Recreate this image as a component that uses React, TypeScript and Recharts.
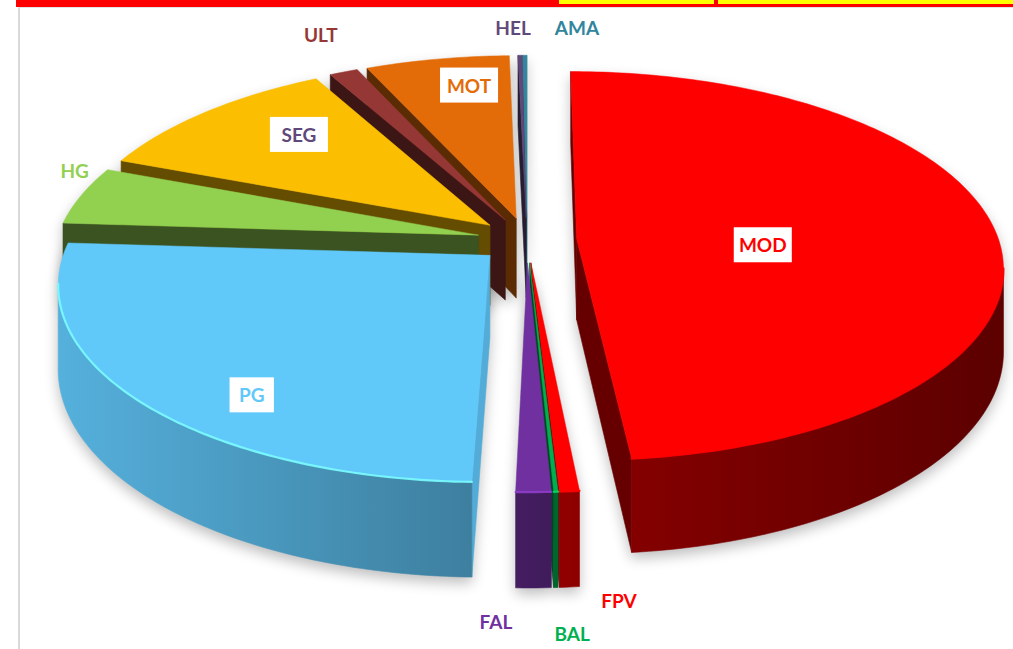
import React from 'react';
import { PieChart, Pie } from 'recharts';

// ---------------- data ----------------
const categories = ['MOD', 'FPV', 'BAL', 'FAL', 'PG', 'HG', 'SEG', 'ULT', 'MOT', 'HEL', 'AMA'];
const shares = [48.47, 0.64, 0.14, 1.14, 25.64, 4.89, 11.17, 1.25, 6.31, 0.18, 0.18];
const sliceColors = ['#FF0000', '#FF0000', '#00B050', '#7030A0', '#61C8FA', '#92D050', '#FBBE00', '#953735', '#E36C09', '#5F497A', '#31859C'];
const labelColors = ['#FF0000', '#FF0000', '#00B050', '#7030A0', '#61C8FA', '#92D050', '#5F497A', '#953735', '#E36C09', '#5F497A', '#31859C'];
const boxedLabels = ['MOD', 'PG', 'SEG', 'MOT'];

const data = categories.map((name, i) => ({
  name,
  value: shares[i],
  color: sliceColors[i],
  labelColor: labelColors[i],
  boxed: boxedLabels.includes(name),
}));

// ---------------- style / geometry constants ----------------
const W = 1013;
const H = 649;
const CX = 527;
const CY = 240;
const RADIUS = 422;
const Y_SCALE = 0.452; // vertical squash of the tilted disc
const PERSP = 0.138; // perspective strength
const DEPTH = 81; // extrusion height (px at centre depth)
const EXPLODE = 0.118; // explosion, fraction of radius
const FONT = "Lato, 'Open Sans', 'DejaVu Sans', sans-serif";
const FONT_SIZE = 19;

// label placement (polar, relative to slice's own exploded centre)
const LABEL_PLACE: Record<string, { r: number; dt: number }> = {
  MOD: { r: 0.44, dt: 6.75 },
  PG: { r: 0.82, dt: -10 },
  SEG: { r: 0.72, dt: 5 },
  MOT: { r: 0.81, dt: 3.5 },
  HG: { r: 1.075, dt: 7 },
  ULT: { r: 1.27, dt: 2 },
  HEL: { r: 1.2, dt: -0.8 },
  AMA: { r: 1.21, dt: 7 },
  FAL: { r: 1.45, dt: 3 },
  BAL: { r: 1.49, dt: 0 },
  FPV: { r: 1.39, dt: -2.4 },
};

type Pt = [number, number];
const rad = (d: number) => (d * Math.PI) / 180;

function project(cx: number, cy: number, R: number, X: number, Z: number, D: number): Pt {
  const s = 1 / (1 - PERSP * Z);
  return [cx + X * R * s, cy + (Z * R * Y_SCALE + D * DEPTH) * s];
}

function shade(hex: string, f: number): string {
  const n = parseInt(hex.slice(1), 16);
  const c = (v: number) => Math.max(0, Math.min(255, Math.round(v * f)));
  return `rgb(${c((n >> 16) & 255)},${c((n >> 8) & 255)},${c(n & 255)})`;
}

function area(pts: Pt[]): number {
  let a = 0;
  for (let i = 0; i < pts.length; i++) {
    const [x1, y1] = pts[i];
    const [x2, y2] = pts[(i + 1) % pts.length];
    a += x1 * y2 - x2 * y1;
  }
  return a;
}

const toPath = (pts: Pt[], close = true) =>
  'M' + pts.map((p) => `${p[0].toFixed(2)},${p[1].toFixed(2)}`).join('L') + (close ? 'Z' : '');

function geometry(props: any) {
  const cx = props.cx as number;
  const cy = props.cy as number;
  const R = props.outerRadius as number;
  const t1 = 90 - props.startAngle;
  const t2 = 90 - props.endAngle;
  const tm = (t1 + t2) / 2;
  const ox = EXPLODE * Math.sin(rad(tm));
  const oz = -EXPLODE * Math.cos(rad(tm));
  const P = (t: number, D: number) => project(cx, cy, R, ox + Math.sin(rad(t)), oz - Math.cos(rad(t)), D);
  const C = (D: number) => project(cx, cy, R, ox, oz, D);
  const n = Math.max(2, Math.ceil((t2 - t1) / 1.0));
  const ts: number[] = [];
  for (let i = 0; i <= n; i++) ts.push(t1 + ((t2 - t1) * i) / n);
  return { t1, t2, tm, P, C, ts };
}

interface Built {
  radial: { d: string; fill: string }[];
  walls: string[];
  rims: string[];
  top: string;
}

function buildFaces(props: any, base: string): Built {
  const g = geometry(props);
  const radial: { d: string; fill: string }[] = [];
  const sf: Pt[] = [g.C(0), g.C(1), g.P(g.t1, 1), g.P(g.t1, 0)];
  if (area(sf) > 0) radial.push({ d: toPath(sf), fill: shade(base, 0.4 + 0.46 * Math.max(0, -Math.cos(rad(g.t1)))) });
  const ef: Pt[] = [g.C(0), g.P(g.t2, 0), g.P(g.t2, 1), g.C(1)];
  if (area(ef) > 0) radial.push({ d: toPath(ef), fill: shade(base, 0.4 + 0.46 * Math.max(0, Math.cos(rad(g.t2)))) });

  // contiguous runs of camera-facing wall segments
  const walls: string[] = [];
  const rims: string[] = [];
  let run: number[] = [];
  const flush = () => {
    if (run.length >= 2) {
      const topPts = run.map((t) => g.P(t, 0));
      const botPts = run.map((t) => g.P(t, 1)).reverse();
      walls.push(toPath([...topPts, ...botPts]));
      rims.push(toPath(topPts, false));
    }
    run = [];
  };
  for (let i = 0; i < g.ts.length - 1; i++) {
    const ta = g.ts[i];
    const tb = g.ts[i + 1];
    const q: Pt[] = [g.P(ta, 0), g.P(ta, 1), g.P(tb, 1), g.P(tb, 0)];
    if (area(q) > 0) {
      if (run.length === 0) run.push(ta);
      run.push(tb);
    } else {
      flush();
    }
  }
  flush();
  const top: Pt[] = [g.C(0), ...g.ts.map((t) => g.P(t, 0))];
  return { radial, walls, rims, top: toPath(top) };
}

const nameOf = (p: any): string => (p && (p.name ?? (p.payload && p.payload.name))) as string;

function makeSliceShape(target: string) {
  return (props: any) => {
    const name = nameOf(props);
    if (name !== target) return <g />;
    const item = data.find((d) => d.name === name)!;
    const { radial, walls, rims, top } = buildFaces(props, item.color);
    const gid = `wall-${name}`;
    return (
      <g>
        <defs>
          <linearGradient id={gid} gradientUnits="userSpaceOnUse" x1={60} y1={0} x2={1000} y2={0}>
            <stop offset="0" stopColor={shade(item.color, 0.88)} />
            <stop offset="0.43" stopColor={shade(item.color, 0.64)} />
            <stop offset="0.6" stopColor={shade(item.color, 0.52)} />
            <stop offset="1" stopColor={shade(item.color, 0.36)} />
          </linearGradient>
        </defs>
        {radial.map((f, i) => (
          <path key={`r${i}`} d={f.d} fill={f.fill} stroke={f.fill} strokeWidth={0.6} strokeLinejoin="round" />
        ))}
        {walls.map((d, i) => (
          <path key={`w${i}`} d={d} fill={`url(#${gid})`} stroke={`url(#${gid})`} strokeWidth={0.6} strokeLinejoin="round" />
        ))}
        <path d={top} fill={item.color} stroke={item.color} strokeWidth={0.5} strokeLinejoin="round" />
        {rims.map((d, i) => (
          <path key={`m${i}`} d={d} fill="none" stroke={shade(item.color, 1.28)} strokeWidth={2.2} opacity={0.85} strokeLinecap="round" />
        ))}
      </g>
    );
  };
}

const shadowShape = (props: any) => {
  const name = nameOf(props);
  const item = data.find((d) => d.name === name);
  if (!item) return <g />;
  const { radial, walls, top } = buildFaces(props, '#000000');
  const id = `shadow-${name}`;
  return (
    <g>
      <defs>
        <filter id={id} filterUnits="userSpaceOnUse" x={0} y={0} width={W} height={H}>
          <feGaussianBlur stdDeviation={7} />
        </filter>
      </defs>
      <g filter={`url(#${id})`} opacity={0.26} transform="translate(0,6)">
        {radial.map((f, i) => (
          <path key={`r${i}`} d={f.d} fill="#000" />
        ))}
        {walls.map((d, i) => (
          <path key={`w${i}`} d={d} fill="#000" />
        ))}
        <path d={top} fill="#000" />
      </g>
    </g>
  );
};

const emptyShape = () => <g />;

const renderLabel = (p: any) => {
  const name = nameOf(p);
  const item = data.find((d) => d.name === name);
  const place = LABEL_PLACE[name];
  if (!item || !place) return null;
  const tm = 90 - p.midAngle;
  const ox = EXPLODE * Math.sin(rad(tm));
  const oz = -EXPLODE * Math.cos(rad(tm));
  const t = tm + place.dt;
  const [x, y] = project(p.cx, p.cy, p.outerRadius, ox + place.r * Math.sin(rad(t)), oz - place.r * Math.cos(rad(t)), 0);
  const textW = name.length * 0.72 * FONT_SIZE;
  return (
    <g key={`lab-${name}`}>
      {item.boxed && <rect x={x - textW / 2 - 8.5} y={y - 17.5} width={textW + 17} height={35} fill="#FFFFFF" />}
      <text
        x={x}
        y={y}
        textAnchor="middle"
        dominantBaseline="central"
        fill={item.labelColor}
        fontFamily={FONT}
        fontWeight={700}
        fontSize={FONT_SIZE}
      >
        {name}
      </text>
    </g>
  );
};

// draw order: back to front by depth of slice mid-angle
const total = shares.reduce((a, b) => a + b, 0);
const depthOrder = (() => {
  let acc = 0;
  const items = categories.map((name, i) => {
    const mid = ((acc + shares[i] / 2) / total) * 360;
    acc += shares[i];
    return { name, z: -Math.cos(rad(mid)) };
  });
  return items.sort((a, b) => a.z - b.z).map((d) => d.name);
})();

const pieCommon = {
  data,
  dataKey: 'value',
  nameKey: 'name',
  cx: CX,
  cy: CY,
  outerRadius: RADIUS,
  startAngle: 90,
  endAngle: -270,
  isAnimationActive: false,
  stroke: 'none',
  labelLine: false,
};

export default function App() {
  return (
    <div style={{ position: 'absolute', left: 0, top: 0, width: W, height: H, overflow: 'hidden', background: '#FFFFFF' }}>
      <div style={{ position: 'absolute', left: 16, top: 0, width: W - 16, height: 7, background: '#FF0000' }} />
      <div style={{ position: 'absolute', left: 559, top: 0, width: 155, height: 4, background: '#FFFF00' }} />
      <div style={{ position: 'absolute', left: 718, top: 0, width: W - 718, height: 4, background: '#FFFF00' }} />
      <div
        style={{
          position: 'absolute',
          left: 18,
          top: 7,
          width: W,
          height: H,
          borderLeft: '2px solid #D9D9D9',
          borderTop: '1px solid #E3E3E3',
          boxSizing: 'border-box',
        }}
      />
      <div style={{ position: 'absolute', left: 0, top: 0 }}>
        <PieChart width={W} height={H} margin={{ top: 0, right: 0, bottom: 0, left: 0 }}>
          <Pie key="shadow" {...(pieCommon as any)} shape={shadowShape} inactiveShape={shadowShape} activeShape={shadowShape} />
          {depthOrder.map((n) => {
            const s = makeSliceShape(n);
            return <Pie key={`slice-${n}`} {...(pieCommon as any)} shape={s} inactiveShape={s} activeShape={s} />;
          })}
          <Pie
            key="labels"
            {...(pieCommon as any)}
            shape={emptyShape}
            inactiveShape={emptyShape}
            activeShape={emptyShape}
            label={renderLabel}
          />
        </PieChart>
      </div>
    </div>
  );
}
